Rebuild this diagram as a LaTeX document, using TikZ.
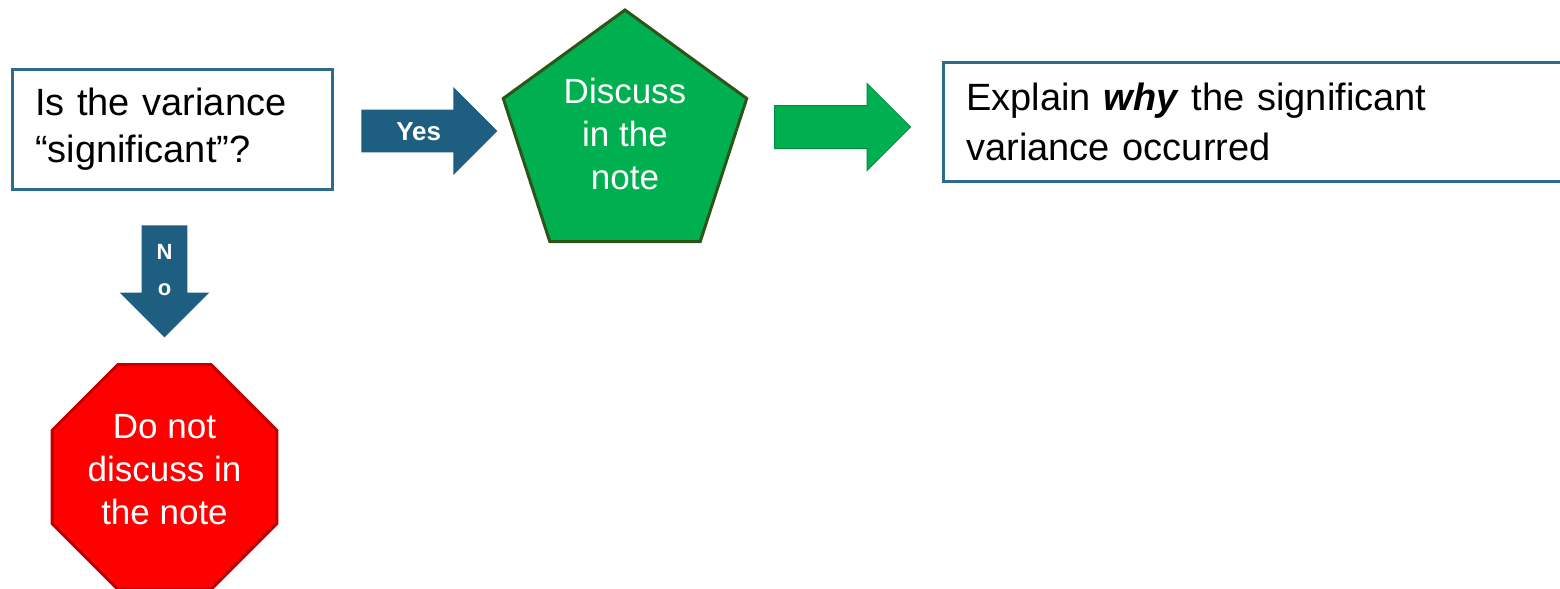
\documentclass[tikz,border=0pt]{standalone}
\usepackage{fontspec}
\setmainfont{Liberation Sans}
\usetikzlibrary{positioning, shapes.geometric, shapes.arrows}

\definecolor{boxblue}{RGB}{46,106,143}
\definecolor{arrowblue}{RGB}{30,94,128}
\definecolor{notegreen}{RGB}{0,176,80}
\definecolor{edgegreen}{RGB}{45,85,25}
\definecolor{stopred}{RGB}{255,0,0}
\definecolor{edgered}{RGB}{192,0,0}

\begin{document}
\begin{tikzpicture}[
    x=0.5pt, y=-0.5pt,
    textbox/.style={rectangle, draw=boxblue, line width=1.5pt, fill=white, align=left, inner xsep=11.5pt, inner ysep=0pt, font=\fontsize{19}{23.5}\selectfont},
    blockarrow/.style={single arrow, single arrow head extend=11.25pt, inner sep=0pt, minimum width=44pt},
    choice/.style={blockarrow, fill=arrowblue, text=white, align=center},
    signtext/.style={text=white, align=center, inner sep=0pt, font=\fontsize{17.5}{21.5}\selectfont}
]

% Frame
\useasboundingbox (0,0) rectangle (1560,589);
\clip (0,0) rectangle (1560,589);

% Question
\node[textbox, text width=137pt, minimum height=60pt] (q) at (172,129) {Is the variance\\“significant”?};

% Yes branch
\node[choice, minimum height=68pt, text height=15.15pt, text depth=5.85pt, font=\bfseries\fontsize{13}{15}\selectfont, anchor=tail] (yes) at (361,131) {Yes};
\node[regular polygon, regular polygon sides=5, minimum size=128pt, fill=notegreen, draw=edgegreen, line width=1.5pt, signtext] (disc) at (625,138) {Discuss\\in the\\note\rule[-4pt]{0pt}{4pt}};
\node[blockarrow, minimum height=68pt, minimum width=43pt, single arrow head extend=11pt, text height=21pt, text depth=0pt, fill=notegreen, draw=notegreen!80!black, line width=0.5pt, anchor=tail] (go) at (774,127) {};
\node[textbox, text width=306pt, minimum height=59.5pt, anchor=west, font=\fontsize{19}{25}\selectfont] (why) at (942,121.5) {Explain \textbf{\textit{why}} the significant\\variance occurred};

% No branch
\node[choice, shape border rotate=270, minimum height=56pt, minimum width=44.5pt, single arrow head extend=11pt, text width=22.5pt, font=\bfseries\fontsize{11}{18}\selectfont, anchor=tail] (no) at (164.5,225) {N\\o};
\node[regular polygon, regular polygon sides=8, minimum size=121.75pt, fill=stopred, draw=edgered, line width=1.5pt, signtext] (stop) at (164.5,477) {Do not\\discuss in\\the note\rule[-8pt]{0pt}{8pt}};

\end{tikzpicture}
\end{document}
